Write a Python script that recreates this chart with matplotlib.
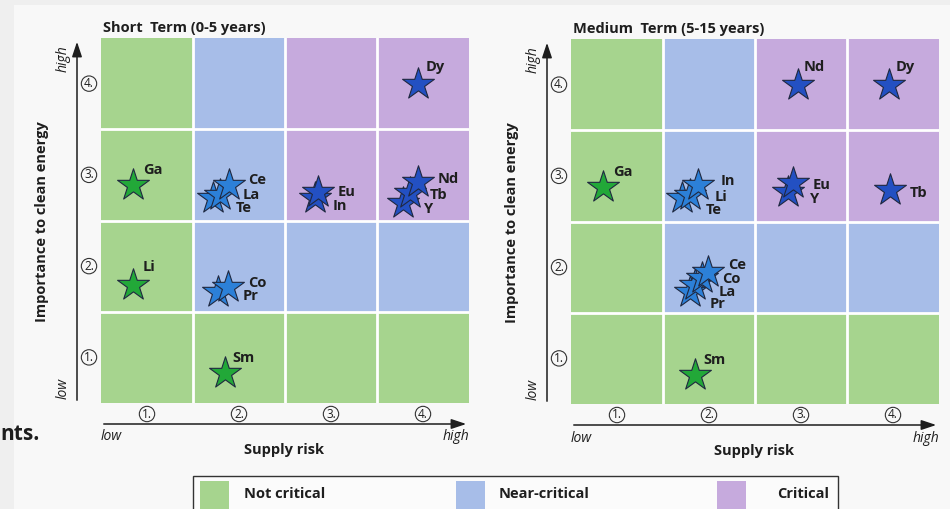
import matplotlib
matplotlib.use("Agg")
import matplotlib.pyplot as plt
from matplotlib.patches import Rectangle, FancyArrowPatch

W, H = 950, 509

levels = ["1.", "2.", "3.", "4."]
# cell class by row (importance low -> high) and column (supply risk low -> high)
# 0 = not critical, 1 = near-critical, 2 = critical
cell_class = [
    [0, 0, 0, 0],
    [0, 1, 1, 1],
    [0, 1, 2, 2],
    [0, 1, 2, 2],
]
class_names = ["Not critical", "Near-critical", "Critical"]

short_elements = ["Ga", "Li", "Sm", "Te", "La", "Ce", "Pr", "Co", "In", "Eu", "Y", "Tb", "Nd", "Dy"]
short_risk = [0.85, 0.85, 1.85, 1.72, 1.79, 1.89, 1.77, 1.88, 2.83, 2.86, 3.78, 3.86, 3.95, 3.95]
short_importance = [2.89, 1.79, 0.83, 2.75, 2.78, 2.89, 1.72, 1.77, 2.75, 2.81, 2.69, 2.80, 2.92, 4.00]

medium_elements = ["Ga", "Te", "Li", "In", "Pr", "La", "Co", "Ce", "Sm", "Y", "Eu", "Tb", "Nd", "Dy"]
medium_risk = [0.85, 1.71, 1.79, 1.88, 1.79, 1.85, 1.92, 1.99, 1.85, 2.86, 2.91, 3.97, 2.97, 3.96]
medium_importance = [2.88, 2.76, 2.79, 2.90, 1.73, 1.80, 1.88, 1.95, 0.82, 2.82, 2.92, 2.85, 4.00, 4.00]

# label offsets from star centre in pixels (right, down)
short_offsets = {"Ga": (10, -15), "Li": (9, -18), "Sm": (7, -15), "Ce": (19, -5), "La": (23, 0),
                 "Te": (23, 10), "Co": (20, -4), "Pr": (25, 4), "Eu": (20, 0), "In": (17, 8),
                 "Nd": (19, -3), "Tb": (20, 2), "Y": (21, 6), "Dy": (7, -17)}
medium_offsets = {"Ga": (10, -15), "In": (23, -4), "Li": (25, 2), "Te": (23, 12), "Eu": (20, 2),
                  "Y": (22, 7), "Tb": (20, 3), "Nd": (5, -18), "Dy": (6, -18), "Ce": (20, -7),
                  "Co": (20, 1), "La": (23, 7), "Pr": (20, 12), "Sm": (8, -15)}

cell_colors = ["#a6d48e", "#a7bde8", "#c6aadd"]
star_colors = ["#22a838", "#2c80d8", "#2350c2"]
FONT = ["Open Sans", "DejaVu Sans"]
INK = "#1e1e1e"

plt.rcParams["font.family"] = FONT
fig = plt.figure(figsize=(W / 100, H / 100), dpi=100, facecolor="#f8f8f8")


def fx(x):
    return x / W


def fy(y):
    return 1 - y / H


def ftext(x, y, s, **kw):
    kw.setdefault("color", INK)
    fig.text(fx(x), fy(y), s, **kw)


def arrow(x0, y0, x1, y1):
    fig.add_artist(FancyArrowPatch((fx(x0), fy(y0)), (fx(x1), fy(y1)), transform=fig.transFigure,
                                   arrowstyle="-|>,head_length=0.9,head_width=0.3",
                                   mutation_scale=10, lw=1.1, color=INK))


# scanned page margins
fig.add_artist(Rectangle((0, 0), fx(14), 1, transform=fig.transFigure, fc="#efefef", ec="none"))
fig.add_artist(Rectangle((0, fy(5)), 1, 1, transform=fig.transFigure, fc="#efefef", ec="none"))


def panel(left, top, title, names, risk, imp, offsets):
    ax = fig.add_axes([fx(left), fy(top + 365), 368 / W, 365 / H])
    for r in range(4):
        for c in range(4):
            ax.add_patch(Rectangle((c + 0.5, r + 0.5), 1, 1, fc=cell_colors[cell_class[r][c]], ec="none"))
    for v in (1.5, 2.5, 3.5):
        ax.axvline(v, color="white", lw=2)
        ax.axhline(v, color="white", lw=2)
    ax.set_xlim(0.5, 4.5)
    ax.set_ylim(0.5, 4.5)
    ax.axis("off")

    for i, (n, x, y) in enumerate(zip(names, risk, imp)):
        cls = cell_class[int(round(y)) - 1][int(round(x)) - 1]
        ax.scatter(x, y, marker="*", s=580, c=star_colors[cls], edgecolors="#1f2840",
                   linewidths=0.8, zorder=3 + i * 0.01)
        dx, dy = offsets[n]
        ax.annotate(n, (x, y), xytext=(dx, -dy), textcoords="offset pixels", ha="left",
                    va="center", fontsize=10.5, fontweight="bold", color=INK, zorder=10)

    # title and axes furniture
    ftext(left + 2, top - 10, title, fontsize=10.5, fontweight="bold", va="center")
    axis_x = left - 24
    arrow(axis_x, top + 365, axis_x, top + 1)
    arrow(left, top + 386, left + 368, top + 386)
    for k, lab in enumerate(levels):
        cy = top + 365 - 91.25 * (k + 0.5)
        cx = left + 92 * (k + 0.5)
        box = dict(boxstyle="circle,pad=0.1", fc="none", ec="#333333", lw=0.8)
        ftext(left - 12, cy, lab, fontsize=8.5, ha="center", va="center", bbox=box)
        ftext(cx, top + 376, lab, fontsize=8.5, ha="center", va="center", bbox=box)
    ftext(axis_x - 14, top + 21, "high", fontsize=10, style="italic", rotation=90, ha="center", va="center")
    ftext(axis_x - 14, top + 350, "low", fontsize=10, style="italic", rotation=90, ha="center", va="center")
    ftext(axis_x - 35, top + 184, "Importance to clean energy", fontsize=10.5, fontweight="bold",
          rotation=90, ha="center", va="center")
    ftext(left, top + 399, "low", fontsize=10, style="italic", ha="left", va="center")
    ftext(left + 368, top + 399, "high", fontsize=10, style="italic", ha="right", va="center")
    ftext(left + 183, top + 412, "Supply risk", fontsize=10.5, fontweight="bold", ha="center", va="center")


panel(101, 38, "Short  Term (0-5 years)", short_elements, short_risk, short_importance, short_offsets)
panel(571, 39, "Medium  Term (5-15 years)", medium_elements, medium_risk, medium_importance, medium_offsets)

# cut-off text from the page
ftext(0, 434, "nts.", fontsize=15, fontweight="bold", ha="left", va="center")

# legend box (runs off the bottom of the page)
fig.add_artist(Rectangle((fx(193), fy(515)), (838 - 193) / W, (515 - 476) / H, transform=fig.transFigure,
                         fc="#fbfbfb", ec="#333333", lw=1))
patch_x = [200, 456, 717]
for k, name in enumerate(class_names):
    fig.add_artist(Rectangle((fx(patch_x[k]), fy(512)), 29 / W, 31 / H, transform=fig.transFigure,
                             fc=cell_colors[k], ec="none"))
ftext(244, 494, class_names[0], fontsize=10.5, fontweight="bold", ha="left", va="center")
ftext(499, 494, class_names[1], fontsize=10.5, fontweight="bold", ha="left", va="center")
ftext(829, 494, class_names[2], fontsize=10.5, fontweight="bold", ha="right", va="center")

fig.savefig("out.png", dpi=100, facecolor=fig.get_facecolor())
